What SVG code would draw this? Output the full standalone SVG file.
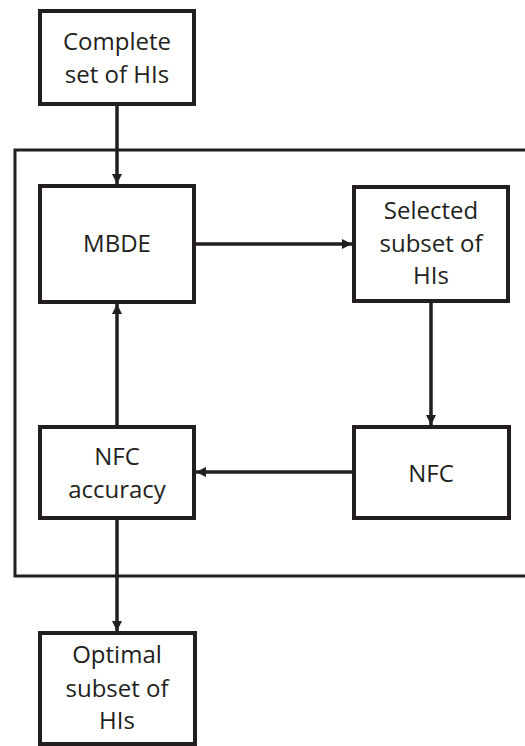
<svg xmlns="http://www.w3.org/2000/svg" width="525" height="746" viewBox="0 0 525 746">
<defs>
<style>
.box{fill:#fff;stroke:#231f20;stroke-width:4}
.frame{fill:none;stroke:#231f20;stroke-width:3}
.lbl{font-family:"Open Sans","Noto Sans","DejaVu Sans",sans-serif;font-size:24px;fill:#231f20;text-anchor:middle}
.conn{fill:none;stroke:#231f20;stroke-width:3.5}
</style>
<marker id="ah" viewBox="0 0 10 10" refX="10" refY="5" markerWidth="10" markerHeight="10" markerUnits="userSpaceOnUse" orient="auto">
<path d="M0,0 L10,5 L0,10 z" fill="#231f20"/>
</marker>
</defs>
<rect width="525" height="746" fill="#fff"/>
<g id="container">
<path class="frame" d="M527,150 H15 V576 H527"/>
</g>
<g id="connectors">
<line class="conn" x1="117" y1="104" x2="117" y2="184" marker-end="url(#ah)"/>
<line class="conn" x1="196" y1="244" x2="352" y2="244" marker-end="url(#ah)"/>
<line class="conn" x1="431" y1="303" x2="431" y2="425" marker-end="url(#ah)"/>
<line class="conn" x1="353" y1="472" x2="196" y2="472" marker-end="url(#ah)"/>
<line class="conn" x1="117" y1="425" x2="117" y2="304" marker-end="url(#ah)"/>
<line class="conn" x1="117" y1="520" x2="117" y2="631" marker-end="url(#ah)"/>
</g>
<g id="complete">
<rect class="box" x="40" y="11" width="154" height="93"/>
<text class="lbl" x="117" y="50">Complete</text>
<text class="lbl" x="117" y="83">set of HIs</text>
</g>
<g id="mbde">
<rect class="box" x="40" y="186" width="154" height="116"/>
<text class="lbl" x="117" y="252">MBDE</text>
</g>
<g id="selected">
<rect class="box" x="354" y="187" width="154" height="114"/>
<text class="lbl" x="431" y="219">Selected</text>
<text class="lbl" x="431" y="252">subset of</text>
<text class="lbl" x="431" y="284">HIs</text>
</g>
<g id="nfc-accuracy">
<rect class="box" x="40" y="427" width="154" height="91"/>
<text class="lbl" x="117" y="465">NFC</text>
<text class="lbl" x="117" y="498">accuracy</text>
</g>
<g id="nfc">
<rect class="box" x="354" y="427" width="155" height="91"/>
<text class="lbl" x="431" y="482">NFC</text>
</g>
<g id="optimal">
<rect class="box" x="40" y="633" width="155" height="111"/>
<text class="lbl" x="117" y="663">Optimal</text>
<text class="lbl" x="117" y="697">subset of</text>
<text class="lbl" x="117" y="729">HIs</text>
</g>
</svg>
